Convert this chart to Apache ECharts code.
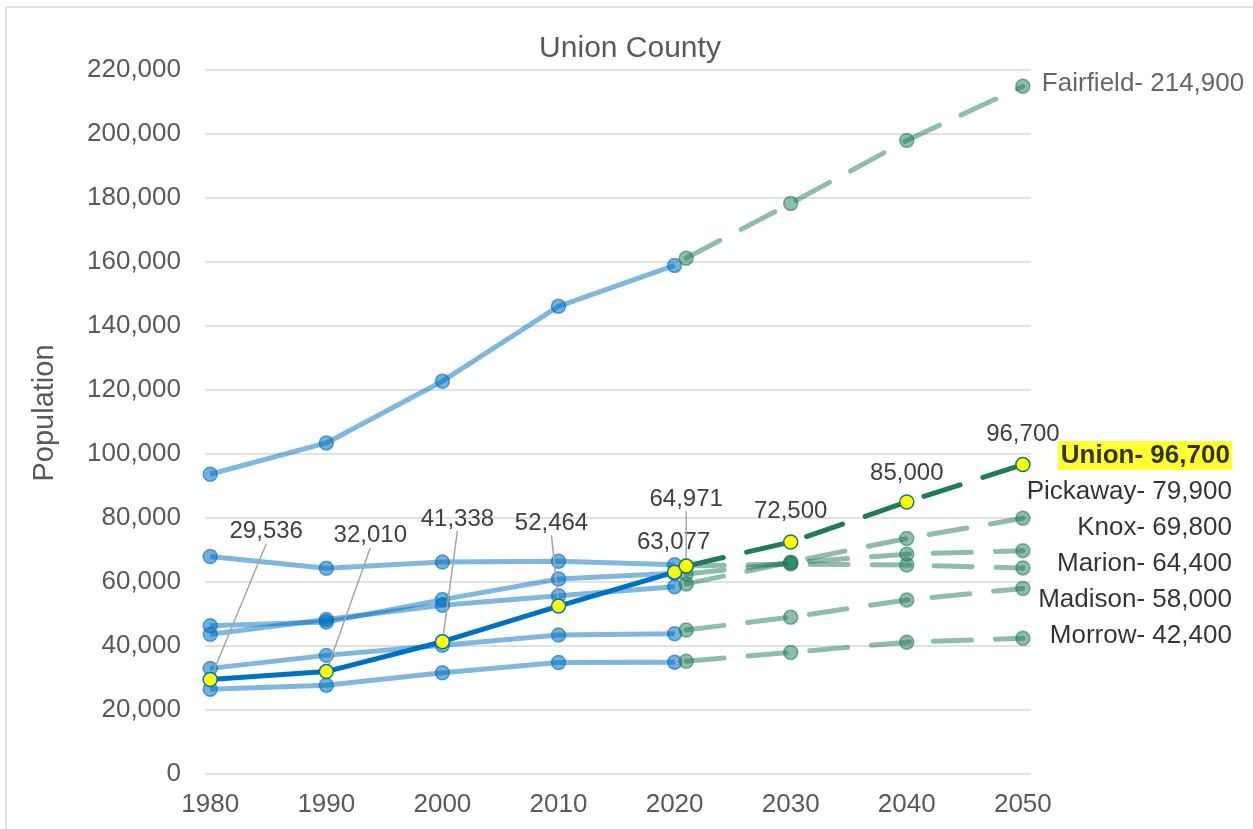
<!DOCTYPE html>
<html>
<head>
<meta charset="utf-8">
<script src="https://cdn.jsdelivr.net/npm/echarts@6/dist/echarts.min.js"></script>
<style>html,body{margin:0;padding:0;background:#fff}#c{width:1253px;height:829px}</style>
</head>
<body>
<div id="c"></div>
<script>
// ---- data ----
const histYears = [1980, 1990, 2000, 2010, 2020];
const projYears = [2021, 2030, 2040, 2050];
const xTicks = [1980, 1990, 2000, 2010, 2020, 2030, 2040, 2050];

const fairfieldHist = [93678, 103461, 122759, 146156, 158921];
const pickawayHist  = [43662, 48255, 52727, 55698, 58539];
const knoxHist      = [46304, 47473, 54500, 60921, 62721];
const marionHist    = [67974, 64274, 66217, 66501, 65359];
const madisonHist   = [33004, 37068, 40213, 43435, 43824];
const morrowHist    = [26480, 27749, 31628, 34827, 34950];
const unionHist     = [29536, 32010, 41338, 52464, 63077];

const fairfieldProj = [161200, 178300, 198000, 214900];
const pickawayProj  = [59400, 66200, 73600, 79900];
const knoxProj      = [62500, 66000, 68700, 69800];
const marionProj    = [65000, 65600, 65300, 64400];
const madisonProj   = [45000, 49000, 54400, 58000];
const morrowProj    = [35200, 38000, 41200, 42400];
const unionProj     = [64971, 72500, 85000, 96700];

const countyNames = ['Fairfield', 'Union', 'Pickaway', 'Knox', 'Marion', 'Madison', 'Morrow'];

// ---- styles ----
const FONT = 'Liberation Sans, Arial, sans-serif';
const fmt = v => Number(v).toLocaleString('en-US');

function pairs(xs, ys) { return xs.map((x, i) => [x, ys[i]]); }

function histSeries(name, vals) {
  return {
    type: 'line', name, data: pairs(histYears, vals),
    symbol: 'circle', symbolSize: 14, showAllSymbol: true, z: 2,
    lineStyle: { color: 'rgba(0,112,192,0.5)', width: 5 },
    itemStyle: { color: 'rgba(0,112,192,0.55)', borderColor: 'rgba(0,112,192,0.6)', borderWidth: 1.5 }
  };
}
function projSeries(name, vals) {
  return {
    type: 'line', name: name + ' proj', data: pairs(projYears, vals),
    symbol: 'circle', symbolSize: 14, showAllSymbol: true, z: 3,
    lineStyle: { color: 'rgba(31,122,88,0.5)', width: 5, type: [38, 24], cap: 'round' },
    itemStyle: { color: 'rgba(31,122,88,0.5)', borderColor: 'rgba(31,122,88,0.55)', borderWidth: 1.5 }
  };
}

// label offsets (layout only)
const unionHistLabelShift = [[56, -123], [44, -111], [15, -98], [-7, -58], [-1, -5]];
const unionHistLeader = [true, true, true, true, false];
const unionProjLabelShift = [[0, -42], [0, -6], [0, -4], [0, -5]];
const unionProjLeader = [true, false, false, false];

const valueLabel = { show: true, position: 'top', fontSize: 24, color: '#404040', fontFamily: FONT, formatter: p => fmt(p.value[1]) };
const leaderStyle = { show: true, lineStyle: { color: '#a6a6a6', width: 1.5 } };

const unionHistData = pairs(histYears, unionHist).map((v, i) => ({ value: v, labelLine: { show: unionHistLeader[i], lineStyle: { color: '#a6a6a6', width: 1.5 } } }));
const unionProjData = pairs(projYears, unionProj).map((v, i) => ({ value: v, labelLine: { show: unionProjLeader[i], lineStyle: { color: '#a6a6a6', width: 1.5 } } }));

// end labels (county names)
const endValues = {
  Fairfield: fairfieldProj[3], Union: unionProj[3], Pickaway: pickawayProj[3], Knox: knoxProj[3],
  Marion: marionProj[3], Madison: madisonProj[3], Morrow: morrowProj[3]
};
const endLabelPos = {
  Fairfield: [20, -1], Union: [210, -8], Pickaway: [210, -25], Knox: [210, -22],
  Marion: [210, -3], Madison: [210, 12], Morrow: [210, -1]
};
const endData = countyNames.map(n => {
  const isUnion = n === 'Union';
  const isFair = n === 'Fairfield';
  return {
    name: n, value: [2050, endValues[n]],
    label: {
      show: true, position: endLabelPos[n], align: isFair ? 'left' : 'right', verticalAlign: 'middle',
      fontSize: 26, fontFamily: FONT, color: isFair ? '#404040' : '#000000',
      fontWeight: isUnion ? 'bold' : 'normal',
      backgroundColor: isUnion ? '#ffff00' : 'transparent', padding: isUnion ? [2, 2, 1, 3] : 0,
      formatter: p => p.name + '- ' + fmt(p.value[1])
    }
  };
});

const chart = echarts.init(document.getElementById('c'), null, { renderer: 'canvas' });
chart.setOption({
  animation: false,
  backgroundColor: '#ffffff',
  textStyle: { fontFamily: FONT },
  graphic: [{ type: 'rect', shape: { x: 6, y: 7, width: 1400, height: 1000 }, style: { fill: 'none', stroke: '#d9d9d9', lineWidth: 1.5 }, silent: true, z: -10 }],
  title: {
    text: 'Union County', left: 630, top: 34, textAlign: 'center', padding: 0,
    textStyle: { fontSize: 30, fontWeight: 'normal', color: '#595959', fontFamily: FONT }
  },
  grid: { left: 205, right: 222, top: 70, bottom: 55, containLabel: false },
  xAxis: {
    type: 'value', min: 1979.55, max: 2050.7,
    axisLine: { show: false }, axisTick: { show: false }, splitLine: { show: false },
    axisLabel: { customValues: xTicks, formatter: v => String(v), fontSize: 26, color: '#595959', margin: 18, fontFamily: FONT }
  },
  yAxis: {
    type: 'value', min: 0, max: 220000, interval: 20000,
    name: 'Population', nameLocation: 'middle', nameRotate: 90, nameGap: 146,
    nameTextStyle: { fontSize: 29, color: '#595959', fontFamily: FONT, padding: [0, 0, 0, 18] },
    axisLine: { show: false }, axisTick: { show: false },
    splitLine: { lineStyle: { color: '#d9d9d9', width: 1.5 } },
    axisLabel: { formatter: v => fmt(v), fontSize: 26, color: '#595959', margin: 24, fontFamily: FONT }
  },
  series: [
    histSeries('Fairfield', fairfieldHist),
    histSeries('Pickaway', pickawayHist),
    histSeries('Knox', knoxHist),
    histSeries('Marion', marionHist),
    histSeries('Madison', madisonHist),
    histSeries('Morrow', morrowHist),
    projSeries('Fairfield', fairfieldProj),
    projSeries('Pickaway', pickawayProj),
    projSeries('Knox', knoxProj),
    projSeries('Marion', marionProj),
    projSeries('Madison', madisonProj),
    projSeries('Morrow', morrowProj),
    {
      type: 'line', name: 'Union', data: unionHistData, z: 5,
      symbol: 'circle', symbolSize: 14, showAllSymbol: true,
      lineStyle: { color: '#0070c0', width: 5 },
      itemStyle: { color: '#ffff00', borderColor: '#0070c0', borderWidth: 1.5 },
      label: valueLabel, labelLine: leaderStyle,
      labelLayout: p => ({ dx: unionHistLabelShift[p.dataIndex][0], dy: unionHistLabelShift[p.dataIndex][1] })
    },
    {
      type: 'line', name: 'Union proj', data: unionProjData, z: 6,
      symbol: 'circle', symbolSize: 14, showAllSymbol: true,
      lineStyle: { color: '#217a5b', width: 5, type: [38, 24], cap: 'round' },
      itemStyle: { color: '#ffff00', borderColor: '#217a5b', borderWidth: 1.5 },
      label: valueLabel, labelLine: leaderStyle,
      labelLayout: p => ({ dx: unionProjLabelShift[p.dataIndex][0], dy: unionProjLabelShift[p.dataIndex][1] })
    },
    {
      type: 'scatter', name: 'names', data: endData, z: 7, silent: true,
      symbolSize: 2, itemStyle: { color: 'rgba(0,0,0,0)' }
    }
  ]
});
</script>
</body>
</html>
